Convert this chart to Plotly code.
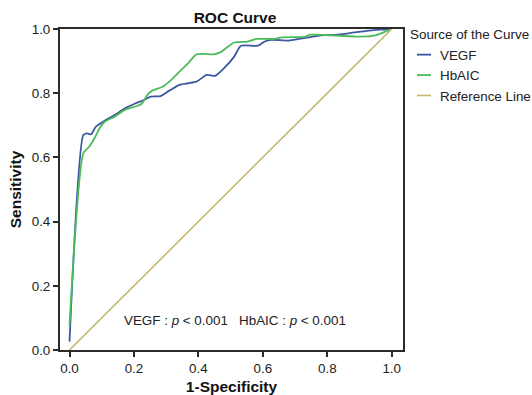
import plotly.graph_objects as go

# ROC data
vegf_fpr = [0.0, 0.043, 0.054, 0.067, 0.082, 0.109, 0.14, 0.172, 0.204, 0.225, 0.252, 0.283,
            0.31, 0.341, 0.368, 0.394, 0.426, 0.452, 0.479, 0.511, 0.532, 0.585, 0.606,
            0.627, 0.68, 0.722, 0.743, 0.785, 0.817, 0.87, 0.923, 0.965, 1.0]
vegf_tpr = [0.026, 0.67, 0.675, 0.672, 0.696, 0.714, 0.732, 0.753, 0.768, 0.776, 0.789, 0.791,
            0.808, 0.826, 0.831, 0.836, 0.857, 0.854, 0.877, 0.914, 0.948, 0.948, 0.961,
            0.966, 0.964, 0.971, 0.974, 0.981, 0.981, 0.987, 0.994, 0.998, 1.0]

hba1c_fpr = [0.0, 0.043, 0.061, 0.077, 0.093, 0.109, 0.14, 0.172, 0.209, 0.225, 0.241, 0.257,
             0.289, 0.31, 0.341, 0.368, 0.394, 0.447, 0.468, 0.511, 0.553, 0.579, 0.637,
             0.658, 0.733, 0.743, 0.796, 0.838, 0.902, 0.944, 0.976, 1.0]
hba1c_tpr = [0.076, 0.613, 0.633, 0.659, 0.69, 0.711, 0.727, 0.748, 0.76, 0.768, 0.794, 0.808,
             0.82, 0.836, 0.867, 0.893, 0.921, 0.921, 0.927, 0.958, 0.961, 0.969, 0.969,
             0.974, 0.976, 0.982, 0.981, 0.979, 0.976, 0.979, 0.99, 1.0]

ref_x = [0.0, 1.0]
ref_y = [0.0, 1.0]

tick_vals = [0.0, 0.2, 0.4, 0.6, 0.8, 1.0]
tick_text = ["0.0", "0.2", "0.4", "0.6", "0.8", "1.0"]

FONT = "Liberation Sans, Arial, sans-serif"
AXIS_COLOR = "#2b2b2b"

fig = go.Figure()
fig.add_trace(go.Scatter(x=vegf_fpr, y=vegf_tpr, mode="lines", name="VEGF",
                         line=dict(color="#3E58A0", width=1.8, shape="spline", smoothing=0.6)))
fig.add_trace(go.Scatter(x=hba1c_fpr, y=hba1c_tpr, mode="lines", name="HbAIC",
                         line=dict(color="#4CBB5A", width=1.8, shape="spline", smoothing=0.6)))
fig.add_trace(go.Scatter(x=ref_x, y=ref_y, mode="lines", name="Reference Line",
                         line=dict(color="#C5B86E", width=1.6)))

fig.add_annotation(x=0.5135, y=0.093, xref="x", yref="y", showarrow=False,
                   text="VEGF : <i>p</i> &lt; 0.001&nbsp;&nbsp; HbAIC : <i>p</i> &lt; 0.001",
                   font=dict(family=FONT, size=13.4, color="#222222"))

fig.update_layout(
    width=532, height=395,
    margin=dict(l=60, r=129, t=29, b=45, autoexpand=False),
    paper_bgcolor="white", plot_bgcolor="white",
    font=dict(family=FONT, size=13.4, color="#222222"),
    title=dict(text="<b>ROC Curve</b>", x=(235 / 532), xanchor="center",
               xref="container", yref="container",
               y=1 - 18 / 395, yanchor="middle", font=dict(size=15.5, color="#111111")),
    legend=dict(title=dict(text="Source of the Curve", font=dict(size=13.4)),
                xref="container", yref="container",
                x=408 / 532, xanchor="left", y=1 - 22 / 395, yanchor="top",
                font=dict(size=13.4), bgcolor="rgba(0,0,0,0)",
                tracegroupgap=0, itemwidth=30),
    showlegend=True,
)

fig.update_xaxes(range=[-0.0295, 1.035], tickvals=tick_vals, ticktext=tick_text,
                 showgrid=False, zeroline=False, showline=True, mirror=True,
                 linecolor=AXIS_COLOR, linewidth=2, ticks="outside", ticklen=5,
                 tickwidth=1.5, tickcolor=AXIS_COLOR,
                 title=dict(text="<b>1-Specificity</b>", font=dict(size=15.5, color="#111111"),
                            standoff=8),
                 tickfont=dict(size=13.4))
fig.update_yaxes(range=[0, 1], tickvals=tick_vals, ticktext=tick_text,
                 showgrid=False, zeroline=False, showline=True, mirror=True,
                 linecolor=AXIS_COLOR, linewidth=2, ticks="outside", ticklen=5,
                 tickwidth=1.5, tickcolor=AXIS_COLOR,
                 title=dict(text="<b>Sensitivity</b>", font=dict(size=15.5, color="#111111"),
                            standoff=6),
                 tickfont=dict(size=13.4))

# Short legend line glyphs as in the reference (SPSS-style legend)
post = (
    "document.body.style.margin='0';document.body.style.overflow='hidden';"
    "var gd=document.getElementById('{plot_id}');"
    "gd.querySelectorAll('.legend .legendlines path').forEach(function(p){p.setAttribute('d','M9,0h14');});"
    "gd.querySelectorAll('.legend .traces .legendtext').forEach(function(t){t.setAttribute('x','32');});"
)

fig.write_html("out.html", config={"displayModeBar": False}, post_script=post)
